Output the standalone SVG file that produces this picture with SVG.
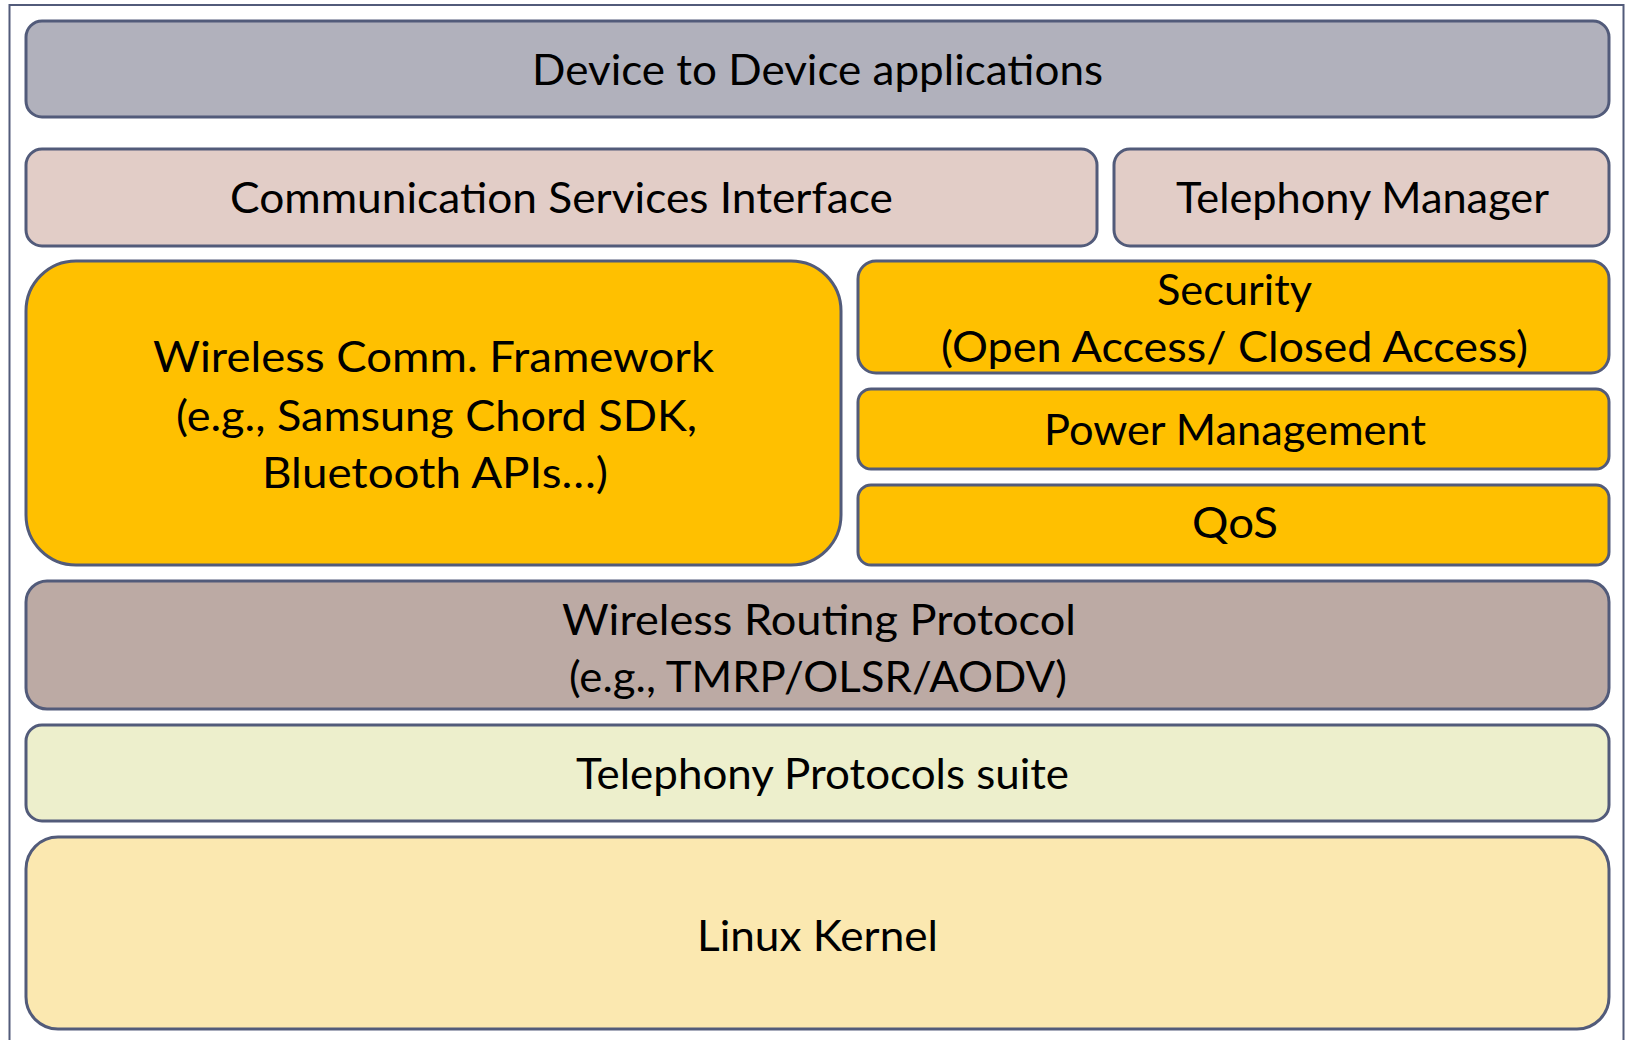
<svg xmlns="http://www.w3.org/2000/svg" width="1625" height="1040" viewBox="0 0 1625 1040">
<style>
.box{stroke:#525B7A;stroke-width:3}
.t{font-family:Lato,"Open Sans","DejaVu Sans",sans-serif;font-size:43px;fill:#000}
</style>
<rect width="1625" height="1040" fill="#fff"/>
<rect id="frame" x="9.5" y="5" width="1614" height="1045" fill="none" stroke="#525B7A" stroke-width="2"/>
<g id="d2d">
<rect class="box" x="26" y="21" width="1583" height="96" rx="16" fill="#B1B1BC"/>
<text class="t" x="532" y="85" textLength="571" lengthAdjust="spacingAndGlyphs">Device to Device applications</text>
</g>
<g id="csi">
<rect class="box" x="26" y="149" width="1071" height="97" rx="16" fill="#E2CDC7"/>
<text class="t" x="230" y="213" textLength="663" lengthAdjust="spacingAndGlyphs">Communication Services Interface</text>
</g>
<g id="telmgr">
<rect class="box" x="1114" y="149" width="495" height="97" rx="16" fill="#E2CDC7"/>
<text class="t" x="1176" y="213" textLength="373" lengthAdjust="spacingAndGlyphs">Telephony Manager</text>
</g>
<g id="wcf">
<rect class="box" x="26" y="261" width="815" height="304" rx="50" fill="#FFC000"/>
<text class="t" x="153" y="372" textLength="561" lengthAdjust="spacingAndGlyphs">Wireless Comm. Framework</text>
<text class="t" x="176" y="431" textLength="521" lengthAdjust="spacingAndGlyphs">(e.g., Samsung Chord SDK,</text>
<text class="t" x="262" y="488" textLength="346" lengthAdjust="spacingAndGlyphs">Bluetooth APIs…)</text>
</g>
<g id="security">
<rect class="box" x="858" y="261" width="751" height="112" rx="18" fill="#FFC000"/>
<text class="t" x="1157" y="305" textLength="155" lengthAdjust="spacingAndGlyphs">Security</text>
<text class="t" x="941" y="362" textLength="587" lengthAdjust="spacingAndGlyphs">(Open Access/ Closed Access)</text>
</g>
<g id="power">
<rect class="box" x="858" y="389" width="751" height="80" rx="13" fill="#FFC000"/>
<text class="t" x="1044" y="445" textLength="382" lengthAdjust="spacingAndGlyphs">Power Management</text>
</g>
<g id="qos">
<rect class="box" x="858" y="485" width="751" height="80" rx="13" fill="#FFC000"/>
<text class="t" x="1192" y="538" textLength="86" lengthAdjust="spacingAndGlyphs">QoS</text>
</g>
<g id="routing">
<rect class="box" x="26" y="581" width="1583" height="128" rx="21" fill="#BCAAA4"/>
<text class="t" x="562" y="635" textLength="514" lengthAdjust="spacingAndGlyphs">Wireless Routing Protocol</text>
<text class="t" x="569" y="692" textLength="498" lengthAdjust="spacingAndGlyphs">(e.g., TMRP/OLSR/AODV)</text>
</g>
<g id="telprot">
<rect class="box" x="26" y="725" width="1583" height="96" rx="16" fill="#EDEFCC"/>
<text class="t" x="576" y="789" textLength="493" lengthAdjust="spacingAndGlyphs">Telephony Protocols suite</text>
</g>
<g id="linux">
<rect class="box" x="26" y="837" width="1583" height="192" rx="32" fill="#FBE8B0"/>
<text class="t" x="697" y="951" textLength="241" lengthAdjust="spacingAndGlyphs">Linux Kernel</text>
</g>
<g id="connectors"/>
</svg>
